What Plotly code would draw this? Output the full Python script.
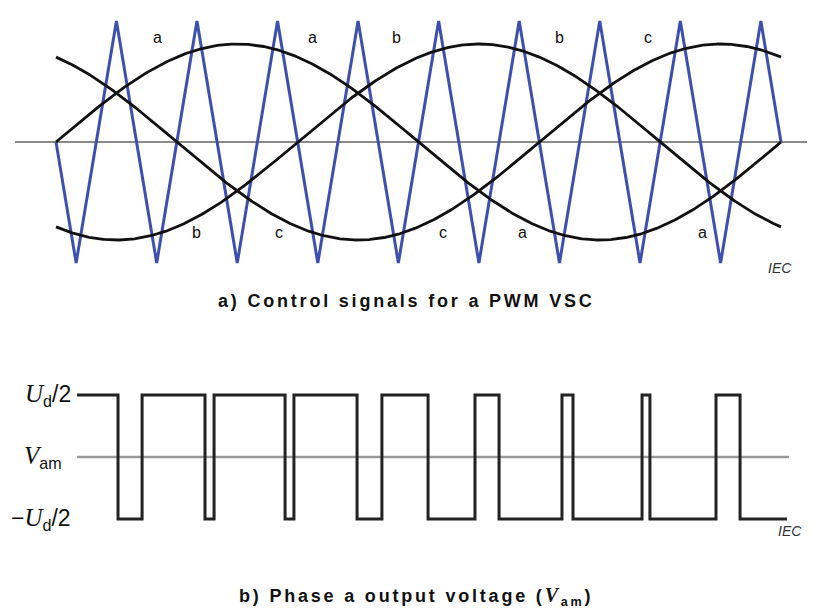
import plotly.graph_objects as go
import numpy as np

# ---------------- data ----------------
# top panel: electrical angle (deg) grid for modulating sines
theta_deg = list(np.linspace(0, 360, 721))
mod_index = 0.81
phase_shift = {"a": 0, "b": -120, "c": 120}
# carrier vertices (deg, value): 9 carrier periods per fundamental
carrier_x = [0, 10, 30, 50, 70, 90, 110, 130, 150, 170, 190, 210, 230, 250,
             270, 290, 310, 330, 350, 360]
carrier_y = [0, -1, 1, -1, 1, -1, 1, -1, 1, -1, 1, -1, 1, -1, 1, -1, 1, -1, 1, 0]

# phase labels (deg, value, text)
label_x = [50.2, 127.6, 169.3, 249.8, 294.0, 70.0, 110.7, 192.2, 231.4, 320.8]
label_y = [0.86, 0.86, 0.86, 0.86, 0.86, -0.745, -0.745, -0.745, -0.745, -0.745]
label_t = ["a", "a", "b", "b", "c", "b", "c", "c", "a", "a"]

# bottom panel: switching instants (deg) and output levels
edge_x = [0, 20.8, 33.0, 64.9, 69.5, 105.5, 110.0, 142.0, 154.6, 178.0,
          201.8, 214.0, 245.9, 251.5, 286.5, 290.5, 324.0, 336.2, 360]
edge_level = [1, -1, 1, -1, 1, -1, 1, -1, 1, -1, 1, -1, 1, -1, 1, -1, 1, -1, -1]

SER = "font-family:Liberation Serif;font-size:25px"
level_labels = [f"<span style='{SER}'><i>U</i></span><sub>d</sub>/2",
                f"<span style='{SER}'><i>V</i></span><sub>am</sub>",
                f"\u2212<span style='{SER}'><i>U</i></span><sub>d</sub>/2"]
level_values = [1, 0, -1]

# ---------------- figure ----------------
OFF = 8                      # page body margin
W, H = 823 - OFF, 608 - OFF
fig = go.Figure()

def px(x):  # reference pixel -> layout pixel
    return x - OFF

th = np.array(theta_deg)
# zero line top
fig.add_trace(go.Scatter(x=[-20.4, 372.9], y=[0, 0], mode="lines",
                         line=dict(color="#8a8a8a", width=2), xaxis="x", yaxis="y",
                         hoverinfo="skip"))
# carrier
fig.add_trace(go.Scatter(x=carrier_x, y=carrier_y, mode="lines",
                         line=dict(color="#3d50b0", width=3), xaxis="x", yaxis="y"))
# sines
for ph, sh in phase_shift.items():
    fig.add_trace(go.Scatter(x=theta_deg, y=list(mod_index * np.sin(np.radians(th + sh))),
                             mode="lines", line=dict(color="#111111", width=2.8),
                             xaxis="x", yaxis="y"))

# bottom zero line
fig.add_trace(go.Scatter(x=[0, 361], y=[0, 0], mode="lines",
                         line=dict(color="#9a9a9a", width=2.5), xaxis="x2", yaxis="y2"))
# square wave
fig.add_trace(go.Scatter(x=edge_x, y=edge_level, mode="lines", line_shape="hv",
                         line=dict(color="#222222", width=3), xaxis="x2", yaxis="y2"))

split = px(304)   # layout pixel separating panels
# top: 0deg->56px, 360deg->781px ; y 0->142px, 1 unit = 121px (reference pixels)
pxd1 = 725 / 360
x1_range = [-px(56) / pxd1, (W - px(56)) / pxd1]
y1_range = [-(split - px(142)) / 121, px(142) / 121]
# bottom: 0deg->77px, 360deg->787px ; y 0->457px, 1 unit = 62px
pxd2 = 710 / 360
x2_range = [-px(77) / pxd2, (W - px(77)) / pxd2]
y2_range = [-(H - px(457)) / 62, (px(457) - split) / 62]

ax = dict(visible=False, showgrid=False, zeroline=False, fixedrange=True)
fig.update_layout(
    width=W, height=H, margin=dict(l=0, r=0, t=0, b=0),
    paper_bgcolor="white", plot_bgcolor="white", showlegend=False,
    xaxis=dict(domain=[0, 1], range=x1_range, anchor="y", **ax),
    yaxis=dict(domain=[1 - split / H, 1], range=y1_range, anchor="x", **ax),
    xaxis2=dict(domain=[0, 1], range=x2_range, anchor="y2", **ax),
    yaxis2=dict(domain=[0, 1 - split / H], range=y2_range, anchor="x2", **ax),
    font=dict(family="Liberation Sans, Arial, sans-serif", color="#111111", size=16),
)

annots = []
for lx, ly, lt in zip(label_x, label_y, label_t):
    annots.append(dict(x=lx, y=ly, xref="x", yref="y", text=lt, showarrow=False,
                       font=dict(size=16, color="#111111")))
for txt, v in zip(level_labels, level_values):
    annots.append(dict(x=-2.0 if v != 0 else -6.5, y=v, xref="x2", yref="y2", text=txt,
                       showarrow=False, xanchor="right",
                       font=dict(size=23, color="#111111")))

def paper(x, y):
    return px(x) / W, 1 - px(y) / H

for (x, y) in [(794, 268), (804, 541)]:
    xx, yy = paper(x, y)
    annots.append(dict(x=xx, y=yy, xref="paper", yref="paper", text="<i>IEC</i>",
                       showarrow=False, xanchor="right",
                       font=dict(size=14, color="#333333")))
xx, yy = paper(406, 301)
annots.append(dict(x=xx, y=yy, xref="paper", yref="paper",
                   text="<span style='letter-spacing:2.8px;font-size:18px'><b>a) Control signals for a PWM VSC</b></span>",
                   showarrow=False, font=dict(size=18, color="#111111")))
xx, yy = paper(416, 596)
annots.append(dict(x=xx, y=yy, xref="paper", yref="paper", yanchor="middle",
                   text="<span style='letter-spacing:2.8px;font-size:18px'><b>b) Phase a output voltage (<span style='font-family:Liberation Serif;font-size:20px'><i>V</i></span><sub>am</sub>)</b></span>",
                   showarrow=False, font=dict(size=18, color="#111111")))
fig.update_layout(annotations=annots)

fig.write_html("out.html")
